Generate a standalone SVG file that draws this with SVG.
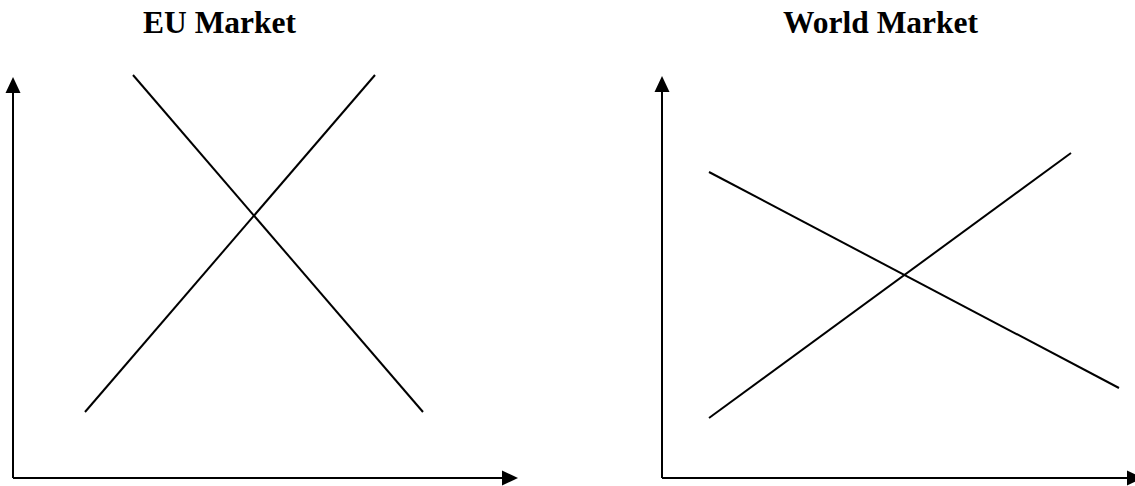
<svg xmlns="http://www.w3.org/2000/svg" width="1135" height="486" viewBox="0 0 1135 486">
<style>
.ax{stroke:#000;stroke-width:2;fill:none}
.ln{stroke:#000;stroke-width:2;fill:none}
.hd{fill:#000}
.ttl{font-family:"Liberation Serif",serif;font-weight:bold;font-size:31.5px;fill:#000}
</style>
<rect width="1135" height="486" fill="#fff"/>
<g id="eu-title"><text class="ttl" x="143" y="33">EU Market</text></g>
<g id="world-title"><text class="ttl" x="783" y="33">World Market</text></g>
<g id="connectors">
<line class="ax" x1="13" y1="478" x2="13" y2="90"/>
<polygon class="hd" points="13,77 5.5,93 20.5,93"/>
<line class="ax" x1="13" y1="478" x2="504" y2="478"/>
<polygon class="hd" points="518,478 502,470.5 502,485.5"/>
<line class="ln" x1="133" y1="75" x2="423" y2="412"/>
<line class="ln" x1="85" y1="412" x2="375" y2="75"/>
<line class="ax" x1="662" y1="478" x2="662" y2="90"/>
<polygon class="hd" points="662,76 654.5,92 669.5,92"/>
<line class="ax" x1="662" y1="478" x2="1129" y2="478"/>
<polygon class="hd" points="1143,478 1127,470.5 1127,485.5"/>
<line class="ln" x1="709" y1="172" x2="1119" y2="388"/>
<line class="ln" x1="709" y1="418" x2="1071" y2="153"/>
</g>
</svg>
